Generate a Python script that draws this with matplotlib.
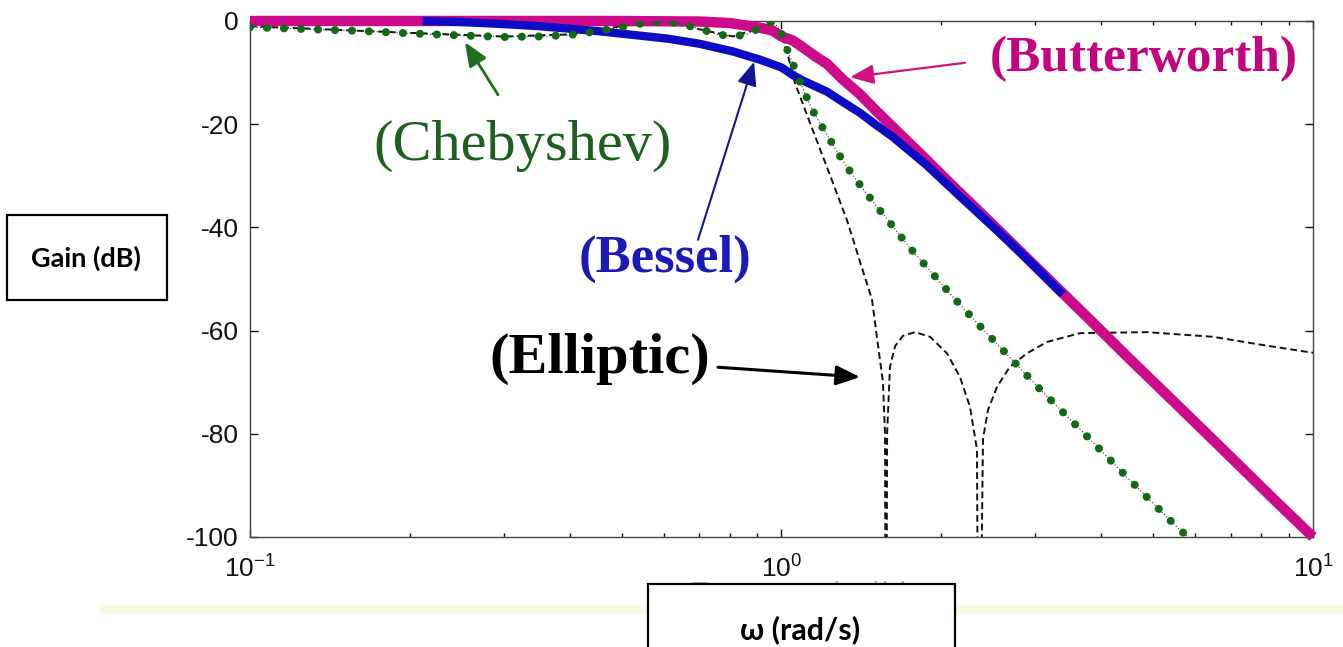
import matplotlib
matplotlib.use("Agg")
import matplotlib.pyplot as plt
from matplotlib.patches import Rectangle

plt.rcParams['font.family'] = ['Liberation Sans', 'DejaVu Sans']
plt.rcParams['axes.unicode_minus'] = False

# Butterworth (magenta, thick)
w_butter = [0.1, 0.5, 0.7, 0.8, 0.9, 0.96, 1.0, 1.051, 1.1, 1.16, 1.218, 1.3, 1.405,
            1.5, 1.621, 1.878, 2.102, 2.5, 3.0, 3.643, 4.5, 5.5, 7.0, 8.5, 10.0]
db_butter = [0.0, 0.0, -0.1, -0.4, -1.2, -1.8, -3.0, -3.8, -5.2, -6.9, -8.3, -11.2, -14.2,
             -17.2, -20.6, -27.0, -32.0, -39.5, -47.5, -56.0, -65.3, -74.0, -84.5, -93.0,
             -100.0]

# Bessel (blue)
w_bessel = [0.211, 0.25, 0.3, 0.35, 0.455, 0.609, 0.7, 0.81, 0.911, 1.0, 1.051, 1.1,
            1.218, 1.3, 1.405, 1.5, 1.621, 1.878, 2.167, 2.6, 3.0, 3.38]
db_bessel = [0.0, -0.2, -0.6, -1.0, -2.0, -3.4, -4.4, -5.9, -7.5, -9.0, -10.5, -11.6,
             -13.7, -15.6, -17.8, -20.0, -22.5, -28.0, -34.0, -41.5, -47.6, -53.0]

# Chebyshev (green dots)
w_cheby = [0.1, 0.13, 0.16, 0.2, 0.25, 0.3, 0.35, 0.4, 0.45, 0.5, 0.55, 0.59,
           0.64, 0.7, 0.76, 0.81, 0.86, 0.9, 0.95, 0.975, 1.0, 1.02, 1.05, 1.079,
           1.141, 1.187, 1.229, 1.277, 1.328, 1.387, 1.448, 1.512, 1.58, 1.738,
           1.911, 2.102, 2.322, 2.566, 3.1, 3.676, 4.487, 5.524, 5.82]
db_cheby = [-1.2, -1.6, -1.9, -2.4, -2.8, -3.1, -3.0, -2.7, -2.0, -1.2, -0.4, -0.1,
            -0.4, -1.5, -2.6, -3.0, -2.6, -1.6, -0.2, -0.6, -2.5, -5.0, -8.2, -11.4,
            -17.1, -20.2, -22.7, -25.6, -28.3, -31.0, -33.5, -36.0, -38.4, -43.8,
            -48.6, -53.5, -58.3, -63.0, -71.9, -79.5, -88.6, -97.9, -100.0]

# Elliptic (thin black dashed)
w_ellip = [0.1, 0.2, 0.3, 0.4, 0.5, 0.59, 0.7, 0.81, 0.9, 0.95, 1.0, 1.03, 1.06,
           1.131, 1.234, 1.328, 1.48, 1.532, 1.552, 1.566, 1.573, 1.58, 1.6, 1.636,
           1.693, 1.783, 1.903, 2.048, 2.167, 2.263, 2.332, 2.35, 2.394, 2.446,
           2.544, 2.69, 2.897, 3.159, 3.643, 4.87, 6.48, 8.05, 10.0]
db_ellip = [-1.0, -2.3, -3.0, -2.6, -1.0, 0.0, -1.6, -3.0, -1.5, 0.0, -3.0, -7.0, -12.0,
            -19.7, -29.9, -38.6, -54.0, -65.7, -70.0, -80.0, -150.0, -80.0, -67.0, -63.0,
            -61.0, -60.3, -61.2, -64.4, -69.0, -74.8, -83.0, -150.0, -81.0, -75.4,
            -70.9, -67.0, -64.4, -62.2, -60.5, -60.3, -61.2, -62.8, -64.3]

fig = plt.figure(figsize=(13.43, 6.47), dpi=100)
ax = fig.add_axes([0.18615, 0.17002, 0.79151, 0.79753])
ax.set_xscale('log')
ax.set_xlim(0.1, 10)
ax.set_ylim(-100, 0)

# curves
ax.plot(w_ellip, db_ellip, color='#111111', lw=1.4, ls=(0, (3.5, 2)), zorder=2)
ax.plot(w_butter, db_butter, color='#cc0a8c', lw=7.5, solid_capstyle='butt',
        solid_joinstyle='round', clip_on=False, zorder=3)
ax.plot(w_bessel, db_bessel, color='#0c0cc4', lw=6.0, solid_capstyle='butt',
        solid_joinstyle='round', clip_on=False, zorder=4)
ax.plot(w_cheby, db_cheby, color='#2a3a2a', lw=0.8, ls=(0, (1, 2)), zorder=5)
ax.plot(w_cheby, db_cheby, color='#136a13', lw=5.8, ls=(0, (0.01, 2.1)),
        dash_capstyle='round', zorder=6)

# ticks / spines
ax.set_yticks([0, -20, -40, -60, -80, -100])
ax.tick_params(which='both', direction='in', top=True, right=True,
               labelsize=19, colors='#111111')
ax.tick_params(which='major', length=6, width=1, pad=8)
ax.tick_params(which='minor', length=3, width=1)
ax.tick_params(axis='x', which='major', pad=13)
for s in ax.spines.values():
    s.set_color('#444444')
    s.set_linewidth(1.0)

# labels on the curves
serif = ['Liberation Serif', 'DejaVu Serif']
ax.text(4.81, -7.4, '(Butterworth)', color='#c4047f', fontsize=37,
        fontweight='bold', family=serif, ha='center', va='center')
ax.text(0.325, -24.2, '(Chebyshev)', color='#1e5e1e', fontsize=42,
        family=serif, ha='center', va='center')
ax.text(0.6036, -46.0, '(Bessel)', color='#1a1ab8', fontsize=38,
        fontweight='bold', family=serif, ha='center', va='center')
ax.text(0.4556, -65.4, '(Elliptic)', color='black', fontsize=42,
        fontweight='bold', family=serif, ha='center', va='center')

head = '-|>,head_length=1.45,head_width=0.6'
ax.annotate('', xy=(1.346, -10.9), xytext=(2.214, -8.1),
            arrowprops=dict(arrowstyle=head, color='#d0127f', lw=1.6,
                            shrinkA=0, shrinkB=0))
ax.annotate('', xy=(0.2538, -4.1), xytext=(0.2928, -14.3),
            arrowprops=dict(arrowstyle=head, color='#1e6e1e', lw=2.0,
                            shrinkA=0, shrinkB=0))
ax.annotate('', xy=(0.888, -7.9), xytext=(0.6965, -42.4),
            arrowprops=dict(arrowstyle=head, color='#141490', lw=1.5,
                            shrinkA=0, shrinkB=0))
ax.annotate('', xy=(1.405, -69.0), xytext=(0.7594, -67.1),
            arrowprops=dict(arrowstyle=head, color='black', lw=2.2,
                            shrinkA=0, shrinkB=0))

W, H = 1343.0, 647.0

def px_rect(x0, y0, x1, y1, **kw):
    # rectangle given in pixel coords measured from the top-left corner
    r = Rectangle((x0 / W, 1 - y1 / H), (x1 - x0) / W, (y1 - y0) / H,
                  transform=fig.transFigure, **kw)
    fig.patches.append(r)

# faint band and the old, mostly hidden axis label
px_rect(100, 605, 1343, 614, facecolor='#fbfbe4', edgecolor='none', zorder=0.5)
fig.text(800 / W, 1 - 581 / H, 'Frequency (rad/s)', fontsize=20, color='#aaaaaa',
         ha='center', va='top', zorder=0.6)

box_font = ['Lato', 'Open Sans', 'DejaVu Sans']
px_rect(7, 215, 167, 300, facecolor='white', edgecolor='black', lw=1.6, zorder=2)
fig.text(86 / W, 1 - 258 / H, 'Gain (dB)', fontsize=19.5, fontweight='bold',
         family=box_font, ha='center', va='center', zorder=3)
px_rect(648, 584, 955, 660, facecolor='white', edgecolor='black', lw=1.6, zorder=2)
fig.text(800 / W, 1 - 630 / H, 'ω (rad/s)', fontsize=22, fontweight='bold',
         family=box_font, ha='center', va='center', zorder=3)

plt.savefig('out.png', dpi=100)
